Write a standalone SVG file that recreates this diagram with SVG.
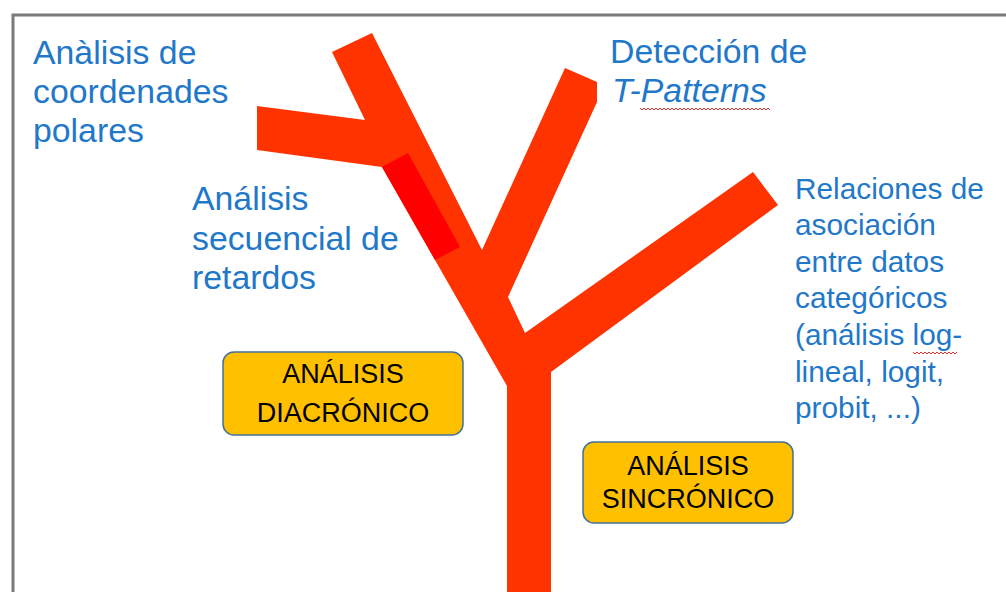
<svg xmlns="http://www.w3.org/2000/svg" width="1006" height="592" viewBox="0 0 1006 592">
<style>
.lbl{font-family:"Liberation Sans",Arial,sans-serif;fill:#1F78C8;}
.big{font-size:33.8px;}
.sm{font-size:29.8px;}
.box{fill:#FFC000;stroke:#41719C;stroke-width:1.5;}
.bt{font-family:"Liberation Sans",Arial,sans-serif;font-size:27px;fill:#000;text-anchor:middle;}
.sq{fill:none;stroke:#E03030;stroke-width:1;}
</style>
<rect x="0" y="0" width="1006" height="592" fill="#fff"/>
<path d="M13 592 V15 H1006" fill="none" stroke="#7a7a7a" stroke-width="3"/>
<g id="tree">
<polygon fill="#FF3300" points="507,592 507,386 435,260 382,167 257,150 257,106 365,120 332,52 372,33 482,250 565,68 597,82 597,102 508,297 525,333 753,172 778,205 551,372 551,592"/>
<polygon fill="#FF0000" points="382,167 408,153 460,247 435,260"/>
</g>
<g id="polares">
<text class="lbl big" x="33" y="64">Anàlisis de</text>
<text class="lbl big" x="33" y="103">coordenades</text>
<text class="lbl big" x="33" y="142">polares</text>
</g>
<g id="secuencial">
<text class="lbl big" x="192" y="210">Análisis</text>
<text class="lbl big" x="192" y="250">secuencial de</text>
<text class="lbl big" x="192" y="289">retardos</text>
</g>
<g id="tpatterns">
<text class="lbl big" x="610" y="63">Detección de</text>
<text class="lbl big" x="612" y="102" font-style="italic">T-Patterns</text>
<path class="sq" d="M640 108 l2 2 l2 -2 l2 2 l2 -2 l2 2 l2 -2 l2 2 l2 -2 l2 2 l2 -2 l2 2 l2 -2 l2 2 l2 -2 l2 2 l2 -2 l2 2 l2 -2 l2 2 l2 -2 l2 2 l2 -2 l2 2 l2 -2 l2 2 l2 -2 l2 2 l2 -2 l2 2 l2 -2 l2 2 l2 -2 l2 2 l2 -2 l2 2 l2 -2 l2 2 l2 -2 l2 2 l2 -2 l2 2 l2 -2 l2 2 l2 -2 l2 2 l2 -2 l2 2 l2 -2 l2 2 l2 -2 l2 2 l2 -2 l2 2 l2 -2 l2 2 l2 -2 l2 2 l2 -2 l2 2 l2 -2 l2 2 l2 -2 l2 2 l2 -2 l2 2"/>
</g>
<g id="relaciones">
<text class="lbl sm" x="795" y="199">Relaciones de</text>
<text class="lbl sm" x="795" y="235">asociación</text>
<text class="lbl sm" x="795" y="272">entre datos</text>
<text class="lbl sm" x="795" y="308">categóricos</text>
<text class="lbl sm" x="795" y="345">(análisis log-</text>
<text class="lbl sm" x="795" y="382">lineal, logit,</text>
<text class="lbl sm" x="795" y="418">probit, ...)</text>
<path class="sq" d="M913 352 l2 2 l2 -2 l2 2 l2 -2 l2 2 l2 -2 l2 2 l2 -2 l2 2 l2 -2 l2 2 l2 -2 l2 2 l2 -2 l2 2 l2 -2 l2 2 l2 -2 l2 2 l2 -2 l2 2 l2 -2"/>
</g>
<g id="diacronico">
<rect class="box" x="223" y="352" width="240" height="83" rx="11"/>
<text class="bt" x="343" y="383">ANÁLISIS</text>
<text class="bt" x="343" y="422">DIACRÓNICO</text>
</g>
<g id="sincronico">
<rect class="box" x="583" y="442" width="210" height="81" rx="11"/>
<text class="bt" x="688" y="475">ANÁLISIS</text>
<text class="bt" x="688" y="508">SINCRÓNICO</text>
</g>
<g id="connectors"></g>
</svg>
